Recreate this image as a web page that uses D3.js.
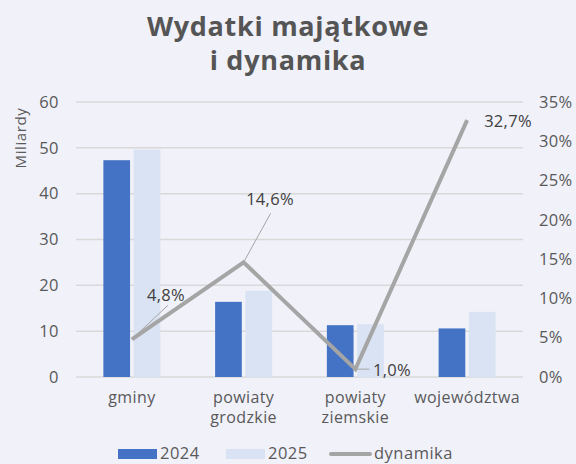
<!DOCTYPE html>
<html><head><meta charset="utf-8">
<script src="https://cdn.jsdelivr.net/npm/d3@7"></script>
<style>
body{margin:0;background:#f0f1f9;}
svg{display:block;font-family:"Open Sans",sans-serif;}
</style></head>
<body>
<svg id="c" width="576" height="464"></svg>
<script>
const categories = [["gminy"], ["powiaty","grodzkie"], ["powiaty","ziemskie"], ["województwa"]];
const values2024 = [47.3, 16.4, 11.3, 10.6];
const values2025 = [49.6, 18.8, 11.5, 14.2];
const dynamika = [4.8, 14.6, 1.0, 32.7];
const dynLabels = ["4,8%", "14,6%", "1,0%", "32,7%"];
const leftTicks = [0,10,20,30,40,50,60];
const rightTicks = [0,5,10,15,20,25,30,35];

const svg = d3.select("#c");
const L = 76, R = 523, T = 102, B = 377;
const x = d3.scaleBand().domain(d3.range(4)).range([L, R]);
const xs = d3.scaleBand().domain([0,1]).range([0, 57]).paddingInner(0.12);
const y = d3.scaleLinear().domain([0,60]).range([B, T]);
const y2 = d3.scaleLinear().domain([0,35]).range([B, T]);
const grey = "#595959";

svg.append("rect").attr("width",576).attr("height",464).attr("fill","#f0f1f9");

// title
svg.append("text").attr("x",288).attr("y",36).attr("text-anchor","middle")
  .attr("font-size",27).attr("letter-spacing",0.7).attr("font-weight","bold").attr("fill","#555").text("Wydatki majątkowe");
svg.append("text").attr("x",288).attr("y",70).attr("text-anchor","middle")
  .attr("font-size",27).attr("letter-spacing",0.7).attr("font-weight","bold").attr("fill","#555").text("i dynamika");

// grid
svg.append("g").selectAll("line").data(leftTicks).join("line")
  .attr("x1",L).attr("x2",R).attr("y1",d=>y(d)).attr("y2",d=>y(d))
  .attr("stroke","#d9d9d9").attr("stroke-width",1.5);

// left axis
const ay = svg.append("g").attr("transform",`translate(${L},0)`)
  .call(d3.axisLeft(y).tickValues(leftTicks).tickSize(0).tickPadding(17));
ay.select(".domain").remove();
ay.selectAll("text").attr("font-size",16.5).attr("letter-spacing",0.5).attr("fill",grey).attr("font-family","Open Sans");

// right axis
const ar = svg.append("g").attr("transform",`translate(${R},0)`)
  .call(d3.axisRight(y2).tickValues(rightTicks).tickSize(0).tickPadding(16).tickFormat(d=>d+"%"));
ar.select(".domain").remove();
ar.selectAll("text").attr("font-size",16.5).attr("letter-spacing",0.3).attr("fill",grey).attr("font-family","Open Sans");

// y title
svg.append("text").attr("transform","translate(26,138) rotate(-90)").attr("text-anchor","middle")
  .attr("font-size",15).attr("letter-spacing",0.6).attr("fill",grey).text("Miliardy");

// bars
const cx = i => x(i) + x.bandwidth()/2 - 28.5;
svg.append("g").selectAll("rect").data(values2024).join("rect")
  .attr("x",(d,i)=>cx(i)+xs(0)).attr("width",xs.bandwidth())
  .attr("y",d=>y(d)).attr("height",d=>B-y(d)).attr("fill","#4472c4");
svg.append("g").selectAll("rect").data(values2025).join("rect")
  .attr("x",(d,i)=>cx(i)+xs(1)).attr("width",xs.bandwidth())
  .attr("y",d=>y(d)).attr("height",d=>B-y(d)).attr("fill","#dae3f3");

// x labels
categories.forEach((lines,i)=>{
  const t = svg.append("text").attr("text-anchor","middle").attr("font-size",16).attr("letter-spacing",0.4).attr("fill",grey)
    .attr("x", x(i)+x.bandwidth()/2);
  lines.forEach((s,j)=>t.append("tspan").attr("x",x(i)+x.bandwidth()/2).attr("y",403+j*20).text(s));
});

// line
const px = i => x(i)+x.bandwidth()/2;
svg.append("path").datum(dynamika)
  .attr("d", d3.line().x((d,i)=>px(i)).y(d=>y2(d)))
  .attr("fill","none").attr("stroke","#a5a5a5").attr("stroke-width",4).attr("stroke-linejoin","miter");

// leader lines & labels
const offs = [[36,-34,166,301],[27,-49,270,205],[14,0,392,376],[0,0,508,127]];
dynamika.forEach((d,i)=>{
  const x0 = px(i), y0 = y2(d);
  if (offs[i][0]!==0) svg.append("line").attr("x1",x0).attr("y1",y0)
      .attr("x2",x0+offs[i][0]).attr("y2",y0+offs[i][1]).attr("stroke","#a5a5a5").attr("stroke-width",1);
  svg.append("text").attr("x",offs[i][2]).attr("y",offs[i][3]).attr("text-anchor","middle")
    .attr("font-size",16.5).attr("letter-spacing",0.3).attr("fill","#404040").text(dynLabels[i]);
});

// legend
const lg = svg.append("g");
lg.append("rect").attr("x",118).attr("y",449).attr("width",39).attr("height",10).attr("fill","#4472c4");
lg.append("text").attr("x",160).attr("y",459).attr("font-size",16.5).attr("letter-spacing",0.5).attr("fill",grey).text("2024");
lg.append("rect").attr("x",226).attr("y",449).attr("width",39).attr("height",10).attr("fill","#dae3f3");
lg.append("text").attr("x",268).attr("y",459).attr("font-size",16.5).attr("letter-spacing",0.5).attr("fill",grey).text("2025");
lg.append("line").attr("x1",331).attr("x2",370).attr("y1",454).attr("y2",454)
  .attr("stroke","#a5a5a5").attr("stroke-width",4).attr("stroke-linecap","round");
lg.append("text").attr("x",374).attr("y",459).attr("font-size",16.5).attr("letter-spacing",0.5).attr("fill",grey).text("dynamika");
</script>
</body></html>
